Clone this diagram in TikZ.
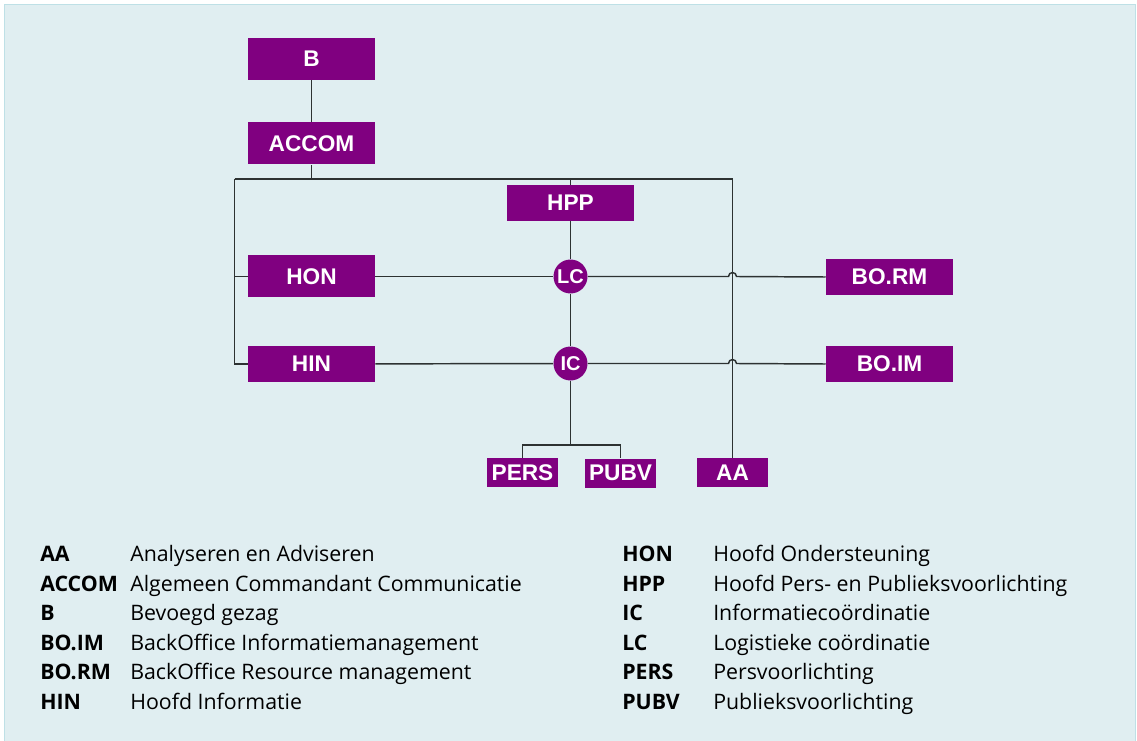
\documentclass[tikz,border=0pt]{standalone}
\usepackage{fontspec}
\setmainfont{Open Sans}
\newfontfamily\boxfont{Liberation Sans}
\usetikzlibrary{calc}
\definecolor{purp}{RGB}{128,0,128}
\definecolor{panel}{RGB}{224,238,241}
\definecolor{panelrim}{RGB}{190,224,230}
\definecolor{wire}{RGB}{45,50,50}
\tikzset{
  unit/.style={fill=purp,text=white,font=\boxfont\bfseries\fontsize{17}{17}\selectfont,
    minimum width=95.25pt,minimum height=31.5pt,inner sep=0pt},
  unitlow/.style={unit,minimum height=27pt},
  subunit/.style={unit,minimum width=53.25pt,minimum height=21.75pt},
  hub/.style={circle,fill=purp,text=white,font=\boxfont\bfseries\fontsize{15}{15}\selectfont,
    minimum size=25.5pt,inner sep=0pt},
  wire/.style={draw=wire,line width=1.1pt},
  abbr/.style={anchor=base west,inner sep=0pt,font=\bfseries\fontsize{16}{16}\selectfont},
  expl/.style={anchor=base west,inner sep=0pt,font=\fontsize{16}{16}\selectfont}
}
\begin{document}
\begin{tikzpicture}[x=0.75pt,y=-0.75pt]
%panel
\useasboundingbox(0,0)rectangle(1137,741);
\fill[white](0,0)rectangle(1137,741);
\filldraw[fill=panel,draw=panelrim,line width=1.2pt](4.5,4.5)rectangle(1135.5,745);
%units
\node[unit](B)at(311.5,59){B};
\node[unit](ACCOM)at(311.5,143.5){ACCOM};
\node[unitlow](HPP)at(570.5,203){HPP};
\node[unit](HON)at(311.5,276.5){HON};
\node[unitlow](HIN)at(311.5,364){HIN};
\node[unitlow](BORM)at(889.5,277){BO.RM};
\node[unitlow](BOIM)at(889.5,364){BO.IM};
\node[hub](LC)at(570.5,276.5){LC};
\node[hub](IC)at(570.5,363.5){IC};
\node[subunit](PERS)at(522.5,472.5){PERS};
\node[subunit](PUBV)at(620.5,473){PUBV};
\node[subunit](AA)at(732.5,472.5){AA};
%bus
\coordinate(busL)at(234.5,179);
\coordinate(busR)at(732.5,179);
\coordinate(split)at(570.5,445);
\draw[wire](B)--(ACCOM);
\draw[wire](ACCOM)--(ACCOM|-busL);
\draw[wire](busL)--(busR);
\draw[wire](busL)--(busL|-HIN)--(HIN.west);
\draw[wire](busL|-HON)--(HON.west);
\draw[wire](HPP.north)--(HPP.north|-busL);
\draw[wire](busR)--(AA.north);
%lines with hops
\draw[wire](HON)--(LC);
\draw[wire](LC.east)--($(busR|-LC)+(-4,0)$)arc[start angle=180,end angle=360,radius=4]--(BORM.west);
\draw[wire](HIN)--(IC);
\draw[wire](IC.east)--($(busR|-IC)+(-4,0)$)arc[start angle=180,end angle=360,radius=4]--(BOIM.west);
\draw[wire](HPP)--(LC);
\draw[wire](LC)--(IC);
\draw[wire](IC)--(split);
\draw[wire](PERS.north)--(PERS.north|-split)--(PUBV.north|-split)--(PUBV.north);
%legend
\foreach \y/\a/\t in {561.5/AA/Analyseren en Adviseren,
  591/ACCOM/Algemeen Commandant Communicatie,
  620.5/B/Bevoegd gezag,
  650/BO.IM/BackOffice Informatiemanagement,
  679.5/BO.RM/BackOffice Resource management,
  709/HIN/Hoofd Informatie}{
  \node[abbr](l\a)at(40,\y){\a};
  \node[expl](d\a)at(130,\y){\t};
}
\foreach \y/\a/\t in {561.5/HON/Hoofd Ondersteuning,
  591/HPP/Hoofd Pers- en Publieksvoorlichting,
  620.5/IC/Informatiecoördinatie,
  650/LC/Logistieke coördinatie,
  679.5/PERS/Persvoorlichting,
  709/PUBV/Publieksvoorlichting}{
  \node[abbr](l\a)at(622,\y){\a};
  \node[expl](d\a)at(713,\y){\t};
}
\end{tikzpicture}
\end{document}
